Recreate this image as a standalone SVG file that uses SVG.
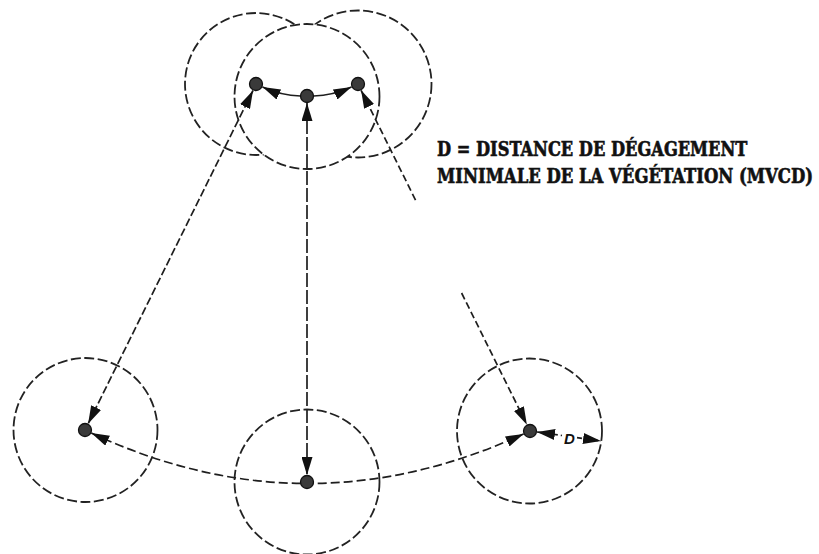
<svg xmlns="http://www.w3.org/2000/svg" width="819" height="554" viewBox="0 0 819 554">
<style>
.zone{fill:none;stroke:#222;stroke-width:1.8;stroke-dasharray:10 3.5}
.dot{fill:#3a3a3a;stroke:#111;stroke-width:1.3}
.conn{fill:none;stroke:#1e1e1e;stroke-width:1.7}
.lbl{font-family:"DejaVu Serif Condensed","DejaVu Serif",serif;font-weight:bold;font-size:20px;fill:#111;stroke:#111;stroke-width:0.6}
.d{font-family:"Liberation Sans",Arial,sans-serif;font-weight:bold;font-style:italic;font-size:15px;fill:#111}
</style>
<defs>
<marker id="ah" markerUnits="userSpaceOnUse" markerWidth="19" markerHeight="11" refX="18" refY="5.5" orient="auto-start-reverse">
<path d="M0,0 L18,5.5 L0,11 z" fill="#111"/>
</marker>
<mask id="hideMid" maskUnits="userSpaceOnUse" x="0" y="0" width="819" height="554">
<rect x="0" y="0" width="819" height="554" fill="#fff"/>
<circle cx="307" cy="96.5" r="72.5" fill="#000"/>
</mask>
</defs>

<g id="connectors">
<path class="conn" d="M300.5,96 Q281,95.5 262.5,87" marker-end="url(#ah)"/>
<path class="conn" d="M313.5,96 Q333,95.5 351.5,87" marker-end="url(#ah)"/>
<path class="conn" d="M307,103 L307,475" stroke-dasharray="14 3" marker-start="url(#ah)" marker-end="url(#ah)"/>
<path class="conn" d="M253,90.5 L88.1,423.7" stroke-dasharray="8 3" marker-start="url(#ah)" marker-end="url(#ah)"/>
<path class="conn" d="M361.1,90.3 L416.5,202" stroke-dasharray="7 3.5" marker-start="url(#ah)"/>
<path class="conn" d="M461.6,293 L526.9,424.7" stroke-dasharray="7 3.5" marker-end="url(#ah)"/>
<path class="conn" d="M91.3,433 Q306.5,533.5 523.6,433.9" stroke-dasharray="9 4" marker-start="url(#ah)" marker-end="url(#ah)"/>
<path class="conn" d="M537,432 L562,435.5" stroke-dasharray="5 3" marker-start="url(#ah)"/>
<path class="conn" d="M577,437.7 L601,441" stroke-dasharray="5 3" marker-end="url(#ah)"/>
</g>

<g id="node-top-left">
<circle class="zone" cx="256" cy="84" r="71" mask="url(#hideMid)"/>
<circle class="dot" cx="256" cy="84" r="6.5"/>
</g>
<g id="node-top-right">
<circle class="zone" cx="358" cy="84" r="73.5" mask="url(#hideMid)"/>
<circle class="dot" cx="358" cy="84" r="6.5"/>
</g>
<g id="node-top-middle">
<circle class="zone" cx="307" cy="96.5" r="72.5"/>
<circle class="dot" cx="307" cy="96" r="6.5"/>
</g>
<g id="node-bottom-left">
<circle class="zone" cx="85.5" cy="430" r="72"/>
<circle class="dot" cx="85" cy="430" r="6.5"/>
</g>
<g id="node-bottom-middle">
<circle class="zone" cx="307" cy="482" r="72.5"/>
<circle class="dot" cx="307" cy="482" r="6.5"/>
</g>
<g id="node-bottom-right">
<circle class="zone" cx="529.5" cy="431" r="72.5"/>
<circle class="dot" cx="530" cy="431" r="6.5"/>
<text class="d" x="569.5" y="443.5" text-anchor="middle">D</text>
</g>

<g id="legend">
<text class="lbl" transform="translate(437,156) scale(0.8,1)" x="0" y="0" textLength="388" lengthAdjust="spacingAndGlyphs">D = DISTANCE DE DÉGAGEMENT</text>
<text class="lbl" transform="translate(437,183) scale(0.8,1)" x="0" y="0" textLength="470" lengthAdjust="spacingAndGlyphs">MINIMALE DE LA VÉGÉTATION (MVCD)</text>
</g>
</svg>
